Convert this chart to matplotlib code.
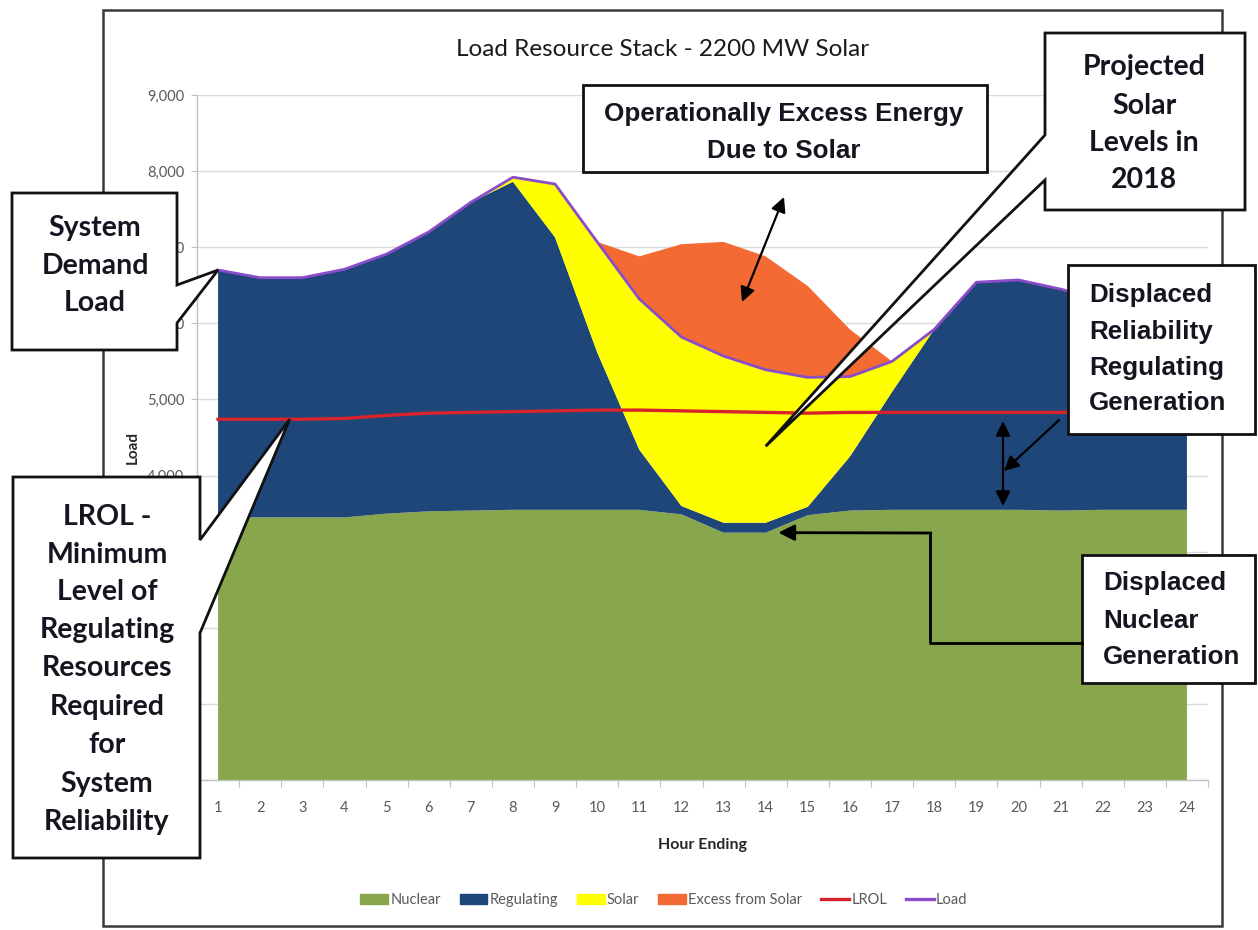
import numpy as np
import matplotlib
matplotlib.use("Agg")
import matplotlib.pyplot as plt
from matplotlib.patches import Polygon, Rectangle, FancyArrowPatch
from matplotlib.lines import Line2D
from matplotlib.ticker import FuncFormatter, FixedLocator

# ---- data (MW by hour ending) ----
hours = list(range(1, 25))
nuclear = [3460, 3450, 3450, 3450, 3500, 3530, 3540, 3550, 3550, 3550, 3550, 3490,
           3250, 3250, 3480, 3540, 3550, 3550, 3550, 3550, 3540, 3550, 3550, 3550]
regulating = [3240, 3150, 3150, 3260, 3410, 3670, 4050, 4310, 3580, 2070, 790, 110,
              130, 130, 110, 710, 1550, 2370, 2990, 3020, 2910, 2750, 2600, 2350]
solar = [0, 0, 0, 0, 0, 0, 0, 60, 700, 1450, 1980, 2220,
         2190, 2010, 1700, 1050, 400, 0, 0, 0, 0, 0, 0, 0]
excess = [0, 0, 0, 0, 0, 0, 0, 0, 0, 0, 560, 1220,
          1500, 1490, 1200, 620, 0, 0, 0, 0, 0, 0, 0, 0]
lrol = [4740, 4740, 4740, 4750, 4790, 4820, 4830, 4840, 4850, 4860, 4860, 4850,
        4840, 4830, 4820, 4830, 4830, 4830, 4830, 4830, 4830, 4830, 4830, 4830]
series_names = ["Nuclear", "Regulating", "Solar", "Excess from Solar", "LROL", "Load"]
y_ticks = [0, 1000, 2000, 3000, 4000, 5000, 6000, 7000, 8000, 9000]
title = "Load Resource Stack - 2200 MW Solar"

# ---- styling ----
C_NUC, C_REG, C_SOL, C_EXC = "#88a64b", "#1f4678", "#ffff00", "#f46a33"
C_LROL, C_LOAD = "#d9232a", "#8a4cc8"
GRAY = "#595959"
INK = "#151520"
CAL = ["Lato", "DejaVu Sans"]
ARI = ["Liberation Sans", "DejaVu Sans"]

W, H = 1258, 930
fig = plt.figure(figsize=(W / 100, H / 100), dpi=100)
fig.patch.set_facecolor("white")


def fp(x, y):
    """pixel position (top-left origin) -> figure fraction"""
    return (x / W, 1 - y / H)


ax = fig.add_axes([197 / W, 1 - 780 / H, (1208 - 197) / W, (780 - 95) / H])

load = np.array(nuclear) + np.array(regulating) + np.array(solar)

ax.stackplot(hours, nuclear, regulating, solar, excess,
             colors=[C_NUC, C_REG, C_SOL, C_EXC], linewidth=0, zorder=2,
             antialiased=True)
ax.plot(hours, lrol, color=C_LROL, lw=2.4, zorder=3)
ax.plot(hours, load, color=C_LOAD, lw=2.0, zorder=4)

ax.set_xlim(0.5, 24.5)
ax.set_ylim(0, 9000)
ax.yaxis.set_major_locator(FixedLocator(y_ticks))
# labels at 3,000 and below sit under the LROL call-out box
ax.yaxis.set_major_formatter(FuncFormatter(lambda v, p: f"{int(v):,}" if v > 3000 else ""))
ax.xaxis.set_major_locator(FixedLocator(hours))
ax.xaxis.set_minor_locator(FixedLocator([h - 0.5 for h in hours] + [24.5]))
ax.tick_params(axis="x", which="major", length=0, pad=15, labelsize=10.5,
               labelcolor=GRAY)
ax.tick_params(axis="x", which="minor", length=5, color="#bfbfbf", width=0.8)
ax.tick_params(axis="y", length=4, color="#bfbfbf", width=0.8, pad=5,
               labelsize=10.5, labelcolor=GRAY)
for lab in ax.get_xticklabels() + ax.get_yticklabels():
    lab.set_family(CAL)
ax.grid(axis="y", color="#d9d9d9", lw=1, zorder=0)
ax.set_axisbelow(True)
for s in ("top", "right"):
    ax.spines[s].set_visible(False)
for s in ("left", "bottom"):
    ax.spines[s].set_color("#bfbfbf")
    ax.spines[s].set_linewidth(1)

# titles and axis labels
fig.text(*fp(663, 50), title, ha="center", va="center", fontsize=17.5,
         family=CAL, color="#1a1a1a")
fig.text(*fp(133, 447), "Load", ha="center", va="center", rotation=90,
         fontsize=11, fontweight="bold", family=CAL, color="#262626")
fig.text(*fp(703, 845), "Hour Ending", ha="center", va="center",
         fontsize=11.5, fontweight="bold", family=CAL, color="#262626")

# legend
handles = [Rectangle((0, 0), 1, 1, color=C_NUC), Rectangle((0, 0), 1, 1, color=C_REG),
           Rectangle((0, 0), 1, 1, color=C_SOL), Rectangle((0, 0), 1, 1, color=C_EXC),
           Line2D([], [], color=C_LROL, lw=2.4), Line2D([], [], color=C_LOAD, lw=2.4)]
leg = fig.legend(handles, series_names, loc="center", bbox_to_anchor=fp(664, 900),
                 ncol=6, frameon=False, handlelength=1.9,
                 handleheight=0.75, handletextpad=0.15, columnspacing=1.3,
                 labelcolor=GRAY, prop={"family": CAL, "size": 10.5})

# outer chart frame
fig.add_artist(Rectangle(fp(103, 926), (1222 - 103) / W, (926 - 10) / H,
                         transform=fig.transFigure, fill=False,
                         edgecolor="#3a3a3a", lw=1.8, zorder=0.5))


def dp(x, y):
    """data position -> pixel position (top-left origin)"""
    d = ax.transData.transform((x, y))
    return (d[0], H - d[1])


def callout(pts):
    poly = Polygon([fp(*p) for p in pts], closed=True, transform=fig.transFigure,
                   facecolor="white", edgecolor="#111111", lw=2.0, zorder=5,
                   joinstyle="miter")
    fig.add_artist(poly)


def lines_of_text(x, ys, lines, family, ha="center", size=20.5):
    for yy, s in zip(ys, lines):
        fig.text(*fp(x, yy), s, ha=ha, va="center", fontsize=size,
                 fontweight="bold", family=family, color=INK, zorder=6)


def arrow(p0, p1, style="-|>", scale=20, lw=1.6):
    a = FancyArrowPatch(fp(*p0), fp(*p1), arrowstyle=style, mutation_scale=scale,
                        transform=fig.transFigure, color="black", lw=lw,
                        shrinkA=0, shrinkB=0, zorder=6)
    fig.add_artist(a)


# System Demand Load
tip = dp(hours[0], load[0])
callout([(12, 193), (177, 193), (177, 285), tip, (177, 323), (177, 350), (12, 350)])
lines_of_text(95, [228, 266, 303], ["System", "Demand", "Load"], CAL)

# LROL
tip = dp(2.7, np.interp(2.7, hours, lrol))
callout([(13, 477), (200, 477), (200, 540), tip, (200, 633), (200, 858), (13, 858)])
lines_of_text(107, [517, 555, 592, 630, 668, 707, 745, 784, 822],
              ["LROL -", "Minimum", "Level of", "Regulating", "Resources",
               "Required", "for", "System", "Reliability"], CAL)

# Operationally Excess Energy
callout([(583, 85), (987, 85), (987, 172), (583, 172)])
lines_of_text(784, [114, 151], ["Operationally Excess Energy", "Due to Solar"], ARI,
              size=18.7)
arrow((784, 197), (742, 302), style="<|-|>", scale=22)

# Projected Solar Levels
tip = dp(14, nuclear[13] + regulating[13] + solar[13] * 0.5)
callout([(1045, 33), (1245, 33), (1245, 210), (1045, 210), (1045, 180), tip, (1045, 135)])
lines_of_text(1144, [67, 106, 143, 180], ["Projected", "Solar", "Levels in", "2018"], CAL)

# Displaced Reliability Regulating Generation
callout([(1068, 265), (1255, 265), (1255, 434), (1068, 434)])
lines_of_text(1089, [295, 332, 368, 403],
              ["Displaced", "Reliability", "Regulating", "Generation"], ARI, ha="left",
              size=18.7)
arrow((1059, 420), (1004, 471), scale=22)
arrow((1003, 421), (1003, 506), style="<|-|>", scale=22)

# Displaced Nuclear Generation
callout([(1082, 555), (1255, 555), (1255, 683), (1082, 683)])
lines_of_text(1103, [583, 621, 657], ["Displaced", "Nuclear", "Generation"], ARI,
              ha="left", size=18.7)
fig.add_artist(Line2D([fp(1082, 643)[0], fp(930, 643)[0], fp(930, 533)[0]],
                      [fp(1082, 643)[1], fp(930, 643)[1], fp(930, 533)[1]],
                      transform=fig.transFigure, color="black", lw=2, zorder=6))
arrow((931, 533), dp(14.3, nuclear[13]), scale=24, lw=2)

fig.savefig("out.png", dpi=100, facecolor="white")
